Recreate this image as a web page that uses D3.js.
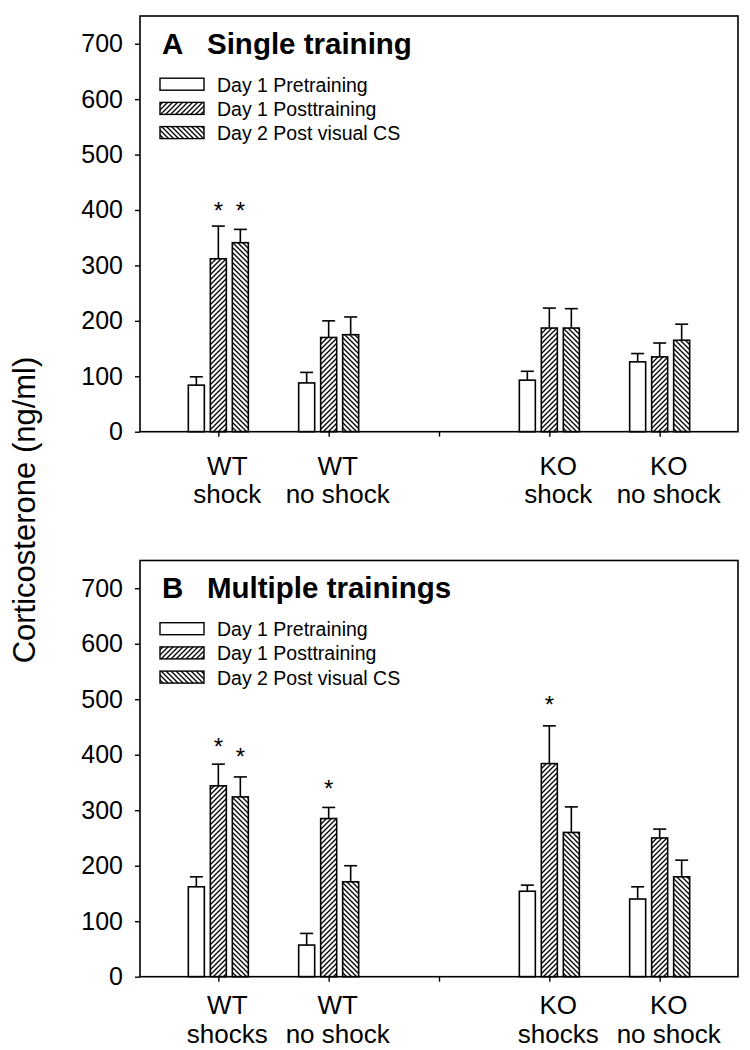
<!DOCTYPE html>
<html>
<head>
<meta charset="utf-8">
<script src="https://cdn.jsdelivr.net/npm/d3@7"></script>
<style>
  body { margin: 0; background: #fff; }
  svg { display: block; }
  text { font-family: "Liberation Sans", Arial, sans-serif; fill: #000; }
</style>
</head>
<body>
<script>
// ---------- data ----------
const seriesNames = ["Day 1 Pretraining", "Day 1 Posttraining", "Day 2 Post visual CS"];
const groupKeys = ["WTs", "WTn", "gap", "KOs", "KOn"];
const groupsA = [["WT", "shock"], ["WT", "no shock"], ["KO", "shock"], ["KO", "no shock"]];
const groupsB = [["WT", "shocks"], ["WT", "no shock"], ["KO", "shocks"], ["KO", "no shock"]];
const yTicks = [0, 100, 200, 300, 400, 500, 600, 700];

// Panel A (means and SEM), order: WT shock, WT no shock, KO shock, KO no shock
const preA = [84, 88, 93, 126];
const preA_sem = [15, 19, 16, 15];
const postA = [312, 170, 187, 135];
const postA_sem = [59, 30, 36, 25];
const day2A = [341, 175, 187, 165];
const day2A_sem = [24, 32, 35, 29];
// significance stars: [group index, series index, y value of star centre]
const starsA = [[0, 1, 408], [0, 2, 408]];

// Panel B
const preB = [162, 57, 154, 140];
const preB_sem = [18, 21, 11, 22];
const postB = [344, 285, 384, 250];
const postB_sem = [39, 20, 68, 16];
const day2B = [324, 171, 260, 180];
const day2B_sem = [36, 29, 46, 30];
const starsB = [[0, 1, 423], [0, 2, 405], [1, 1, 348], [2, 1, 499]];

// ---------- drawing ----------
const W = 750, H = 1050;
const svg = d3.select("body").append("svg").attr("width", W).attr("height", H);

const defs = svg.append("defs");
function hatch(id, d) {
  const p = defs.append("pattern").attr("id", id)
    .attr("patternUnits", "userSpaceOnUse").attr("width", 5).attr("height", 5);
  p.append("rect").attr("width", 5).attr("height", 5).attr("fill", "#fff");
  p.append("path").attr("d", d).attr("stroke", "#000").attr("stroke-width", 1.3);
}
hatch("fwd", "M-1,1 l2,-2 M0,5 l5,-5 M4,6 l2,-2");
hatch("back", "M-1,4 l2,2 M0,0 l5,5 M4,-1 l2,2");
const fills = ["#fff", "url(#fwd)", "url(#back)"];

const left = 140, right = 738;
const x = d3.scalePoint().domain(groupKeys).range([left, right]).padding(0.71);
const sub = d3.scaleBand().domain([0, 1, 2]).range([-33, 33]).paddingInner(0.2727).paddingOuter(0.1364);
const dataKeys = ["WTs", "WTn", "KOs", "KOn"];
const labelShift = 9;

function panel(top, bottom, letter, title, groups, means, sems, stars, labBase) {
  const y = d3.scaleLinear().domain([0, 750]).range([bottom, top]);
  const g = svg.append("g");

  // bars
  means.forEach((vals, si) => {
    vals.forEach((v, gi) => {
      const cx = x(dataKeys[gi]) + sub(si);
      const mid = cx + sub.bandwidth() / 2;
      const errTop = y(v + sems[si][gi]);
      g.append("line").attr("x1", mid).attr("x2", mid)
        .attr("y1", y(v)).attr("y2", errTop).attr("stroke", "#000").attr("stroke-width", 1.6);
      g.append("line").attr("x1", mid - 6.5).attr("x2", mid + 6.5)
        .attr("y1", errTop).attr("y2", errTop).attr("stroke", "#000").attr("stroke-width", 1.6);
      g.append("rect").attr("x", cx).attr("width", sub.bandwidth())
        .attr("y", y(v)).attr("height", y(0) - y(v))
        .attr("fill", fills[si]).attr("stroke", "#000").attr("stroke-width", 1.6);
    });
  });

  // stars
  stars.forEach(([gi, si, v]) => {
    g.append("text").attr("x", x(dataKeys[gi]) + sub(si) + sub.bandwidth() / 2)
      .attr("y", y(v) + 13.5).attr("text-anchor", "middle")
      .style("font-size", "24px").text("*");
  });

  // frame
  g.append("rect").attr("x", left).attr("y", top).attr("width", right - left).attr("height", bottom - top)
    .attr("fill", "none").attr("stroke", "#000").attr("stroke-width", 1.6);

  // y axis
  const ya = g.append("g").attr("transform", `translate(${left},0)`)
    .call(d3.axisLeft(y).tickValues(yTicks).tickSize(5).tickPadding(12));
  ya.select(".domain").remove();
  ya.selectAll("line").attr("stroke", "#000").attr("stroke-width", 1.4);
  ya.selectAll("text").style("font-size", "25px").style("font-family", '"Liberation Sans", Arial, sans-serif');

  // x axis ticks
  const xa = g.append("g").attr("transform", `translate(0,${bottom})`)
    .call(d3.axisBottom(x).tickSize(5).tickFormat(""));
  xa.select(".domain").remove();
  xa.selectAll("line").attr("stroke", "#000").attr("stroke-width", 1.4);

  // x labels
  groups.forEach((lab, gi) => {
    const t = g.append("text").attr("text-anchor", "middle").style("font-size", "26px");
    t.append("tspan").attr("x", x(dataKeys[gi]) + labelShift).attr("y", labBase[0]).text(lab[0]);
    t.append("tspan").attr("x", x(dataKeys[gi]) + labelShift).attr("y", labBase[1]).text(lab[1]);
  });

  // title
  g.append("text").attr("x", 162).attr("y", top + 37.5).style("font-size", "29.5px")
    .style("font-weight", "bold").text(letter);
  g.append("text").attr("x", 207).attr("y", top + 37.5).style("font-size", "29.5px")
    .style("font-weight", "bold").text(title);

  // legend
  seriesNames.forEach((name, si) => {
    const base = top + 75.7 + si * 24.2;
    g.append("rect").attr("x", 160).attr("y", base - 13.5).attr("width", 44).attr("height", 12)
      .attr("fill", fills[si]).attr("stroke", "#000").attr("stroke-width", 1.4);
    g.append("text").attr("x", 217).attr("y", base).style("font-size", "19.5px").text(name);
  });
}

panel(16, 431.7, "A", "Single training", groupsA,
  [preA, postA, day2A], [preA_sem, postA_sem, day2A_sem], starsA, [475, 503]);
panel(560.5, 976.7, "B", "Multiple trainings", groupsB,
  [preB, postB, day2B], [preB_sem, postB_sem, day2B_sem], starsB, [1014, 1043]);

// y axis label
svg.append("text").attr("transform", "translate(35,510) rotate(-90)")
  .attr("text-anchor", "middle").style("font-size", "31px").text("Corticosterone (ng/ml)");
</script>
</body>
</html>
